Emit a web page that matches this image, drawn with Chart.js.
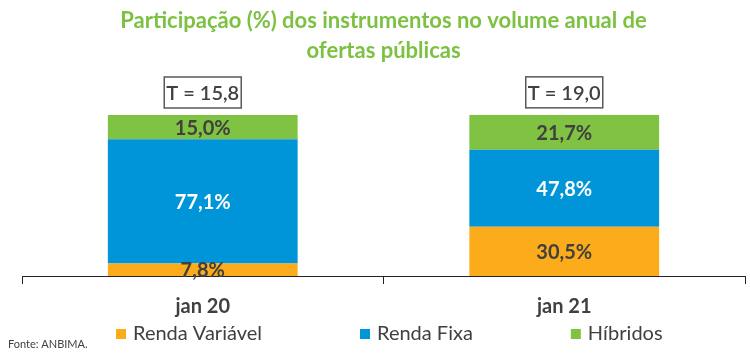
<!DOCTYPE html>
<html>
<head>
<meta charset="utf-8">
<script src="https://cdn.jsdelivr.net/npm/chart.js@4.4.0/dist/chart.umd.min.js"></script>
<style>
html,body{margin:0;padding:0;background:#fff;}
#wrap{width:750px;height:355px;position:relative;}
</style>
</head>
<body>
<div id="wrap"><canvas id="c" width="750" height="355"></canvas></div>
<script>
const categories = ['jan 20', 'jan 21'];
const rendaVariavel = [7.8, 30.5];
const rendaFixa = [77.1, 47.8];
const hibridos = [15.0, 21.7];
const totals = [15.8, 19.0];
const seriesNames = ['Renda Variável', 'Renda Fixa', 'Híbridos'];
const titleLines = ['Participação (%) dos instrumentos no volume anual de', 'ofertas públicas'];
const sourceNote = 'Fonte: ANBIMA.';

const FONT = 'Lato, "Open Sans", sans-serif';
const DARK = '#404040';
const fmt = (v, d) => v.toFixed(d).replace('.', ',');

const dataLabels = {
  id: 'dataLabels',
  afterDatasetsDraw(chart) {
    const ctx = chart.ctx;
    ctx.save();
    ctx.font = 'bold 20px ' + FONT;
    ctx.textAlign = 'center';
    ctx.textBaseline = 'middle';
    chart.data.datasets.forEach((ds, i) => {
      const meta = chart.getDatasetMeta(i);
      meta.data.forEach((el, j) => {
        const p = el.getCenterPoint();
        ctx.fillStyle = ds.labelColor;
        ctx.fillText(fmt(ds.data[j], 1) + '%', p.x, p.y + 1);
      });
    });
    ctx.restore();
  }
};

const totalBoxes = {
  id: 'totalBoxes',
  afterDatasetsDraw(chart) {
    const ctx = chart.ctx;
    const meta = chart.getDatasetMeta(chart.data.datasets.length - 1);
    ctx.save();
    ctx.font = '600 20px ' + FONT;
    ctx.textAlign = 'center';
    ctx.textBaseline = 'middle';
    meta.data.forEach((el, j) => {
      const w = 77, h = 31;
      const x = el.x - w / 2;
      const y = el.y - 7 - h;
      ctx.fillStyle = '#fff';
      ctx.fillRect(x, y, w, h);
      ctx.strokeStyle = '#595959';
      ctx.lineWidth = 1.5;
      ctx.strokeRect(x, y, w, h);
      ctx.fillStyle = DARK;
      ctx.fillText('T = ' + fmt(totals[j], 1), el.x, y + h / 2 + 1);
    });
    ctx.restore();
  }
};

const customLegend = {
  id: 'customLegend',
  afterDraw(chart) {
    const ctx = chart.ctx;
    ctx.save();
    ctx.font = '20px ' + FONT;
    ctx.textBaseline = 'middle';
    const y = 334;
    const gap = 98;
    let x = 116;
    chart.data.datasets.forEach(ds => {
      ctx.fillStyle = ds.backgroundColor;
      ctx.fillRect(x, y - 5, 10, 10);
      ctx.fillStyle = DARK;
      ctx.textAlign = 'left';
      ctx.fillText(ds.label, x + 17, y);
      x += 17 + ctx.measureText(ds.label).width + gap;
    });
    ctx.font = '11px ' + FONT;
    ctx.fillStyle = DARK;
    ctx.fillText(sourceNote, 8, 344);
    ctx.restore();
  }
};

new Chart(document.getElementById('c'), {
  type: 'bar',
  data: {
    labels: categories,
    datasets: [
      { label: seriesNames[0], data: rendaVariavel, backgroundColor: '#FCAB1A', labelColor: DARK },
      { label: seriesNames[1], data: rendaFixa, backgroundColor: '#0094D8', labelColor: '#ffffff' },
      { label: seriesNames[2], data: hibridos, backgroundColor: '#80C241', labelColor: DARK }
    ]
  },
  options: {
    responsive: false,
    animation: false,
    datasets: { bar: { barPercentage: 0.525, categoryPercentage: 1.0 } },
    layout: { padding: { left: 22, right: 5, top: 0, bottom: 25 } },
    plugins: {
      legend: { display: false },
      tooltip: { enabled: false },
      title: {
        display: true,
        text: titleLines,
        color: '#7CC142',
        font: { family: FONT, size: 22, weight: 'bold', lineHeight: 1.36 },
        padding: { top: 6, bottom: 49 }
      }
    },
    scales: {
      x: {
        stacked: true,
        offset: true,
        grid: { offset: true, drawOnChartArea: false, tickLength: 8, color: '#222', lineWidth: 1 },
        border: { color: '#222', width: 1 },
        ticks: { color: DARK, font: { family: FONT, size: 20, weight: 'bold' }, padding: 11 }
      },
      y: { stacked: true, display: false, min: 0, max: 100 }
    }
  },
  plugins: [dataLabels, totalBoxes, customLegend]
});
</script>
</body>
</html>
